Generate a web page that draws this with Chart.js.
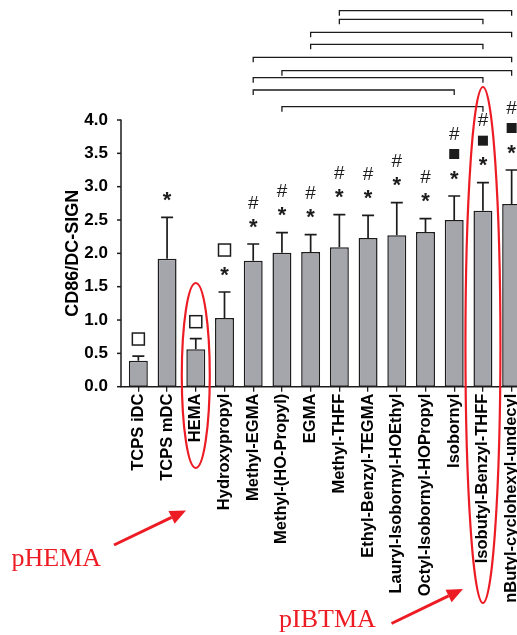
<!DOCTYPE html>
<html>
<head>
<meta charset="utf-8">
<script src="https://cdn.jsdelivr.net/npm/chart.js@4/dist/chart.umd.min.js"></script>
<style>
  html, body { margin: 0; padding: 0; overflow: hidden; background: #fff; }
  #wrap { width: 517px; height: 635px; overflow: hidden; }
  canvas { display: block; }
</style>
</head>
<body>
<div id="wrap"><canvas id="chart" width="526" height="635"></canvas></div>
<script>
const categories = [
    'TCPS iDC', 'TCPS mDC', 'HEMA', 'Hydroxypropyl', 'Methyl-EGMA',
    'Methyl-(HO-Propyl)', 'EGMA', 'Methyl-THFF', 'Ethyl-Benzyl-TEGMA',
    'Lauryl-Isobornyl-HOEthyl', 'Octyl-Isobornyl-HOPropyl', 'Isobornyl',
    'Isobutyl-Benzyl-THFF', 'nButyl-cyclohexyl-undecyl',
];
const means = [0.39, 1.92, 0.56, 1.03, 1.89, 2.01, 2.02, 2.09, 2.23, 2.27, 2.32, 2.50, 2.64, 2.74];
const errors = [0.07, 0.62, 0.16, 0.39, 0.25, 0.30, 0.26, 0.49, 0.34, 0.49, 0.20, 0.36, 0.42, 0.51];
const yTicks = [0, 0.5, 1.0, 1.5, 2.0, 2.5, 3.0, 3.5, 4.0];

// significance symbols above each bar, bottom to top
const marks = [
    ['open'], ['star'], ['open'], ['star', 'open'],
    ['star', 'hash'], ['star', 'hash'], ['star', 'hash'], ['star', 'hash'],
    ['star', 'hash'], ['star', 'hash'], ['star', 'hash'],
    ['star', 'box', 'hash'], ['star', 'box', 'hash'], ['star', 'box', 'hash'],
];

// bracketed pairwise comparisons (category indexes), top to bottom
const comparisons = [[7, 13], [7, 12], [6, 13], [6, 12], [4, 13], [5, 13], [4, 12], [4, 11], [5, 12]];

const callouts = [
    { index: 2, text: 'pHEMA' },
    { index: 12, text: 'pIBTMA' },
];

const FONT = '"Liberation Sans", Arial, sans-serif';
const INK = '#1c1c1c';
const RED = 'rgb(237, 28, 36)';

// layout of the hand-drawn parts
const BRACKET_Y = [10.7, 19.3, 32.3, 44.3, 57.3, 70.7, 77.7, 90, 106.7];
const ELLIPSE = [
    { top: 283, bottom: 468, rx: 14 },
    { top: 87, bottom: 603, rx: 17.5 },
];
const ARROWS = [
    { from: [114, 545], to: [186, 510.5], label: [11.5, 566] },
    { from: [391.5, 623.5], to: [463, 589], label: [279, 627] },
];

function drawGlyph(ctx, text, font, x, cy) {
    ctx.font = font;
    const m = ctx.measureText(text);
    const y = cy + (m.actualBoundingBoxAscent - m.actualBoundingBoxDescent) / 2;
    ctx.fillText(text, x, y);
}

function drawArrow(ctx, [x0, y0], [x1, y1]) {
    const a = Math.atan2(y1 - y0, x1 - x0);
    const len = 16, half = 7;
    const bx = x1 - len * Math.cos(a), by = y1 - len * Math.sin(a);
    ctx.beginPath();
    ctx.moveTo(x0, y0);
    ctx.lineTo(bx, by);
    ctx.stroke();
    ctx.beginPath();
    ctx.moveTo(x1, y1);
    ctx.lineTo(bx + half * Math.sin(a), by - half * Math.cos(a));
    ctx.lineTo(bx - half * Math.sin(a), by + half * Math.cos(a));
    ctx.closePath();
    ctx.fill();
}

const annotations = {
    id: 'annotations',
    afterDatasetsDraw(chart) {
        const { ctx, chartArea, scales: { x, y } } = chart;
        ctx.save();
        ctx.strokeStyle = INK;
        ctx.fillStyle = INK;

        // axes
        const ax = chartArea.left - 3;
        ctx.lineWidth = 1.5;
        ctx.beginPath();
        ctx.moveTo(ax, chartArea.top - 0.5);
        ctx.lineTo(ax, chartArea.bottom);
        ctx.lineTo(chart.width, chartArea.bottom);
        ctx.stroke();
        yTicks.forEach(v => {
            const py = y.getPixelForValue(v);
            ctx.beginPath();
            ctx.moveTo(ax - 4, py);
            ctx.lineTo(ax, py);
            ctx.stroke();
        });

        // error bars (upper only)
        ctx.lineWidth = 1.7;
        means.forEach((m, i) => {
            const px = x.getPixelForValue(i);
            const top = y.getPixelForValue(m + errors[i]);
            ctx.beginPath();
            ctx.moveTo(px, y.getPixelForValue(m));
            ctx.lineTo(px, top);
            ctx.moveTo(px - 6, top);
            ctx.lineTo(px + 6, top);
            ctx.stroke();
        });

        // significance symbols
        ctx.textAlign = 'center';
        marks.forEach((list, i) => {
            const px = x.getPixelForValue(i);
            let cy = y.getPixelForValue(means[i] + errors[i]) - (list[0] === 'open' ? 17 : 21);
            list.forEach(s => {
                if (s === 'star') drawGlyph(ctx, '*', `bold 22px ${FONT}`, px, cy);
                if (s === 'hash') drawGlyph(ctx, '#', `19px ${FONT}`, px, cy);
                if (s === 'box') ctx.fillRect(px - 5, cy - 5, 10, 10);
                if (s === 'open') {
                    ctx.lineWidth = 1.5;
                    ctx.strokeRect(px - 6, cy - 6, 12, 12);
                }
                cy -= 21;
            });
        });

        // comparison brackets
        ctx.lineWidth = 1.3;
        comparisons.forEach(([a, b], k) => {
            const x0 = x.getPixelForValue(a), x1 = x.getPixelForValue(b);
            const by = BRACKET_Y[k];
            ctx.beginPath();
            ctx.moveTo(x0, by + 5);
            ctx.lineTo(x0, by);
            ctx.lineTo(x1, by);
            ctx.lineTo(x1, by + 5);
            ctx.stroke();
        });

        // red callouts
        ctx.strokeStyle = RED;
        ctx.fillStyle = RED;
        callouts.forEach((c, k) => {
            const e = ELLIPSE[k];
            const px = x.getPixelForValue(c.index);
            ctx.lineWidth = 2.2;
            ctx.beginPath();
            ctx.ellipse(px, (e.top + e.bottom) / 2, e.rx, (e.bottom - e.top) / 2, 0, 0, Math.PI * 2);
            ctx.stroke();
            const ar = ARROWS[k];
            ctx.lineWidth = 3;
            drawArrow(ctx, ar.from, ar.to);
            ctx.font = '26px "Liberation Serif", "Times New Roman", serif';
            ctx.textAlign = 'left';
            ctx.textBaseline = 'alphabetic';
            ctx.fillText(c.text, ar.label[0], ar.label[1]);
        });
        ctx.restore();
    },
};

new Chart(document.getElementById('chart'), {
    type: 'bar',
    data: {
        labels: categories,
        datasets: [{
            data: means,
            backgroundColor: 'rgb(165, 165, 172)',
            borderColor: INK,
            borderWidth: 1.5,
            borderSkipped: false,
            barPercentage: 0.66,
            categoryPercentage: 1,
        }],
    },
    options: {
        responsive: false,
        animation: false,
        layout: { padding: { top: 120, left: 0, right: 0, bottom: 0 } },
        plugins: { legend: { display: false }, tooltip: { enabled: false } },
        scales: {
            x: {
                afterFit: s => {
                    s.height = 635 - 386.7;
                    s.paddingLeft = 0;
                    s.paddingRight = 0;
                },
                grid: {
                    display: true, drawOnChartArea: false, drawTicks: true,
                    tickLength: 5, offset: false, color: INK, lineWidth: 1.3,
                },
                border: { display: false },
                ticks: {
                    autoSkip: false, minRotation: 90, maxRotation: 90, padding: 2,
                    color: '#000', font: { family: FONT, size: 16.5, weight: 'bold' },
                },
            },
            y: {
                min: 0,
                max: 4,
                afterFit: s => { s.width = 124; },
                afterBuildTicks: s => { s.ticks = yTicks.map(v => ({ value: v })); },
                grid: { display: false },
                border: { display: false },
                ticks: {
                    padding: 8, color: '#000',
                    font: { family: FONT, size: 17, weight: 'bold' },
                    callback: v => v.toFixed(1),
                },
                title: {
                    display: true, text: 'CD86/DC-SIGN', color: '#000',
                    padding: { top: 62 },
                    font: { family: FONT, size: 18, weight: 'bold' },
                },
            },
        },
    },
    plugins: [annotations],
});
</script>
</body>
</html>
